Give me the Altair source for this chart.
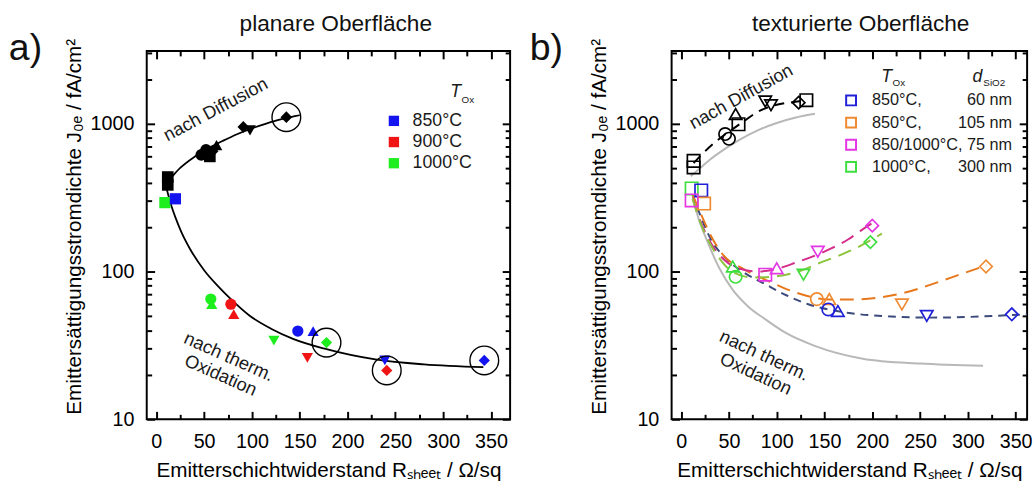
import altair as alt
import pandas as pd

FONT = "Liberation Sans"
NB = "\u00a0"

# ---------------- scales ----------------
XA_DOMAIN = [-10, 370]
XB_DOMAIN = [-10, 362]
Y_DOMAIN = [10, 3100]
Y_MAJOR = [10, 100, 1000]
Y_MINOR = [20, 30, 40, 50, 60, 70, 80, 90, 200, 300, 400, 500, 600, 700, 800, 900, 2000, 3000]

# ---------------- panel a data ----------------
A_DIFF_X = [12, 12, 47, 52, 56, 59, 63, 91, 98, 136]
A_DIFF_Y = [435, 385, 615, 665, 600, 650, 715, 950, 900, 1105]
A_DIFF_SHAPE = ["square", "square", "circle", "circle", "square", "diamond", "triangle-up",
                "diamond", "triangle-down", "diamond"]

A_OX_X = [9, 20, 57, 58, 78, 81, 123, 148, 164, 178, 158, 239, 241, 343]
A_OX_Y = [292, 310, 65, 60, 60, 51.5, 34, 39.5, 39.5, 33, 26, 25, 21.4, 25]
A_OX_SHAPE = ["square", "square", "circle", "triangle-up", "circle", "triangle-up", "triangle-down",
              "circle", "triangle-up", "diamond", "triangle-down", "triangle-down", "diamond", "diamond"]
A_OX_TEMP = ["1000°C", "850°C", "1000°C", "1000°C", "900°C", "900°C", "1000°C",
             "850°C", "850°C", "1000°C", "900°C", "850°C", "900°C", "850°C"]
A_TEMPS = ["850°C", "900°C", "1000°C"]
A_COLORS = ["#1414F0", "#F01414", "#1EEE1E"]

A_RING_X = [136, 178, 241, 343]
A_RING_Y = [1105, 33, 21.4, 25]

A_FIT_DIFF_X = [11, 14, 25, 40, 55, 70, 85, 100, 115, 130, 145, 150]
A_FIT_DIFF_Y = [400, 420, 501, 596, 684, 767, 851, 929, 1000, 1067, 1122, 1140]

A_FIT_OX_X = [10.5, 12.4, 16, 20, 26, 35, 50, 65, 78, 98, 120, 143, 177, 229, 280, 342]
A_FIT_OX_Y = [370, 331, 275, 232, 186, 143, 102, 79, 65, 50, 41, 35, 29.9, 25.4, 23.5, 22.5]

# ---------------- panel b data ----------------
B_DIFF_X = [13, 13, 46, 50, 57, 60, 88, 94, 123, 131]
B_DIFF_Y = [560, 505, 850, 790, 1160, 990, 1410, 1330, 1385, 1440]
B_DIFF_SHAPE = ["square", "square", "circle", "circle", "triangle-up", "square",
                "triangle-down", "triangle-down", "diamond", "square"]

S1 = "850°C," + NB * 10 + "60 nm"
S2 = "850°C," + NB * 8 + "105 nm"
S3 = "850/1000°C, 75 nm"
S4 = "1000°C," + NB * 6 + "300 nm"
B_SERIES = [S1, S2, S3, S4]
B_COLORS = ["#2020D8", "#F08A30", "#E436E4", "#3EDE3E"]

B_OX_X = [11, 21, 24, 11, 57, 54, 88, 100, 128, 143, 198, 200, 142, 155, 154, 164, 231, 319, 257, 346]
B_OX_Y = [364, 353, 288, 302, 92, 108, 95, 105, 95, 136, 158, 204, 65, 65, 55.3, 54, 59.8, 108, 50, 51.3]
B_OX_SHAPE = ["square", "square", "square", "square", "circle", "triangle-up", "square", "triangle-up",
              "triangle-down", "triangle-down", "diamond", "diamond", "circle", "triangle-up", "circle",
              "triangle-up", "triangle-down", "diamond", "triangle-down", "diamond"]
B_OX_SER = [S4, S1, S2, S3, S4, S4, S3, S3, S4, S3, S4, S3, S2, S2, S1, S1, S2, S2, S1, S1]

B_GRAY_UP_X = [10, 20, 30, 45, 60, 80, 100, 120, 140]
B_GRAY_UP_Y = [440, 500, 570, 670, 770, 900, 1010, 1100, 1165]
B_GRAY_LO_X = [12, 18, 27, 40, 54, 70, 88, 110, 139, 190, 250, 316]
B_GRAY_LO_Y = [320, 230, 162, 105, 75, 58, 47.5, 38.2, 31.5, 25.7, 23.8, 23.0]

B_BLUE_X = [12, 20, 30, 47, 65, 88, 110, 133, 174, 220, 260, 300, 340, 362]
B_BLUE_Y = [330, 240, 170, 122, 99, 82, 69, 60, 52.6, 49.5, 48.7, 49.2, 50.5, 51.2]
B_ORANGE_X = [12, 20, 30, 44, 65, 88, 110, 133, 155, 181, 210, 233, 265, 295, 320]
B_ORANGE_Y = [330, 250, 180, 129, 104, 88, 76, 68, 64.5, 64.6, 67, 71.6, 83, 97, 110]
B_MAG_X = [12, 20, 30, 45, 60, 81, 100, 122, 140, 157, 175, 188, 205]
B_MAG_Y = [310, 220, 160, 120, 105, 100, 104, 116, 128, 143, 165, 189, 222]
B_GRN_X = [12, 20, 30, 42, 54, 75, 95, 125, 143, 165, 185, 210]
B_GRN_Y = [310, 215, 155, 118, 99, 91, 92, 101, 113, 128, 146, 180]
B_BLK_X = [13, 25, 40, 52, 64, 80, 100, 118, 132]
B_BLK_Y = [540, 650, 790, 900, 1020, 1200, 1340, 1400, 1440]

Y_TITLE = "Emittersättigungsstromdichte J₀ₑ / fA/cm²"
X_TITLE = "Emitterschichtwiderstand Rₛₕₑₑₜ / Ω/sq"
TITLE_A = "planare Oberfläche"
TITLE_B = "texturierte Oberfläche"


def X(dom, field="x"):
    return alt.X(f"{field}:Q", scale=alt.Scale(domain=dom, nice=False, zero=False), axis=None)


def Y(field="y"):
    return alt.Y(f"{field}:Q", scale=alt.Scale(type="log", domain=Y_DOMAIN, nice=False), axis=None)


def df(xs, ys, **extra):
    d = {"x": xs, "y": ys}
    d.update(extra)
    return pd.DataFrame(d)


def axis_layers(dom):
    d = pd.DataFrame({"x": [dom[0] + 1], "y": [100]})
    base = alt.Chart(d).mark_point(opacity=0, size=1)
    xs = alt.Scale(domain=dom, nice=False, zero=False)
    ys = alt.Scale(type="log", domain=Y_DOMAIN, nice=False)
    xmaj = [v for v in range(0, 400, 50) if dom[0] <= v <= dom[1]]
    xmin = [v for v in range(25, 400, 50) if dom[0] <= v <= dom[1]]
    common = dict(domain=False, grid=False, tickColor="black", tickWidth=2)
    lab = dict(labelFont=FONT, labelFontSize=20, labelColor="black", labelOverlap=False,
               titleFont=FONT, titleFontSize=21, titleColor="black", titleFontWeight="normal")
    layers = [
        base.encode(
            x=alt.X("x:Q", scale=xs, axis=alt.Axis(orient="bottom", values=xmaj, tickSize=8, offset=-8,
                                                   labelPadding=13, labelFlush=False, format="d",
                                                   title=X_TITLE, titlePadding=8, **common, **lab)),
            y=alt.Y("y:Q", scale=ys, axis=alt.Axis(orient="left", values=Y_MAJOR, tickSize=8, offset=-8,
                                                   labelPadding=13, format="d", title=Y_TITLE,
                                                   titlePadding=6, titleY=178, **common, **lab)),
        ),
        base.encode(
            x=alt.X("x:Q", scale=xs, axis=alt.Axis(orient="top", values=xmaj, tickSize=8, offset=-8,
                                                   labels=False, title=None, **common)),
            y=alt.Y("y:Q", scale=ys, axis=alt.Axis(orient="right", values=Y_MAJOR, tickSize=8, offset=-8,
                                                   labels=False, title=None, **common)),
        ),
        base.encode(
            x=alt.X("x:Q", scale=xs, axis=alt.Axis(orient="bottom", values=xmin, tickSize=5, offset=-5,
                                                   labels=False, title=None, **common)),
            y=alt.Y("y:Q", scale=ys, axis=alt.Axis(orient="left", values=Y_MINOR, tickSize=5, offset=-5,
                                                   labels=False, title=None, **common)),
        ),
        base.encode(
            x=alt.X("x:Q", scale=xs, axis=alt.Axis(orient="top", values=xmin, tickSize=5, offset=-5,
                                                   labels=False, title=None, **common)),
            y=alt.Y("y:Q", scale=ys, axis=alt.Axis(orient="right", values=Y_MINOR, tickSize=5, offset=-5,
                                                   labels=False, title=None, **common)),
        ),
    ]
    return layers


def text_layer(dom, xs, ys, texts, **mk):
    return alt.Chart(df(xs, ys, t=texts)).mark_text(font=FONT, color="#1a1a1a", **mk).encode(
        x=X(dom), y=Y(), text="t:N")


def pixel_text(label, xpix, ypix, size, align):
    return alt.Chart(pd.DataFrame({"t": [label]})).mark_text(
        font=FONT, fontSize=size, align=align, baseline="alphabetic", color="#111111"
    ).encode(x=alt.value(xpix), y=alt.value(ypix), text="t:N")


# ---------------- panel a ----------------
A = XA_DOMAIN
a_layers = [
    alt.Chart(df(A_FIT_DIFF_X, A_FIT_DIFF_Y)).mark_line(color="black", strokeWidth=1.8, interpolate="monotone")
    .encode(x=X(A), y=Y()),
    alt.Chart(df(A_FIT_OX_X, A_FIT_OX_Y)).mark_line(color="black", strokeWidth=1.8, interpolate="monotone")
    .encode(x=X(A), y=Y()),
    alt.Chart(df(A_DIFF_X, A_DIFF_Y, shape=A_DIFF_SHAPE)).mark_point(filled=True, size=140, opacity=1, color="black")
    .encode(x=X(A), y=Y(), shape=alt.Shape("shape:N", scale=None)),
    alt.Chart(df(A_OX_X, A_OX_Y, shape=A_OX_SHAPE, temp=A_OX_TEMP)).mark_point(filled=True, size=130, opacity=1)
    .encode(
        x=X(A), y=Y(), shape=alt.Shape("shape:N", scale=None),
        color=alt.Color("temp:N", scale=alt.Scale(domain=A_TEMPS, range=A_COLORS),
                        legend=alt.Legend(title=None, orient="none", legendX=242, legendY=62,
                                          symbolType="square", symbolSize=110, labelFont=FONT,
                                          labelFontSize=18, labelColor="#1a1a1a", rowPadding=3.5,
                                          labelOffset=10, padding=0)),
    ),
    alt.Chart(df(A_RING_X, A_RING_Y)).mark_point(shape="circle", size=850, filled=False, color="black",
                                                  strokeWidth=1.4, opacity=1)
    .encode(x=X(A), y=Y()),
    text_layer(A, [62], [1250], ["nach Diffusion"], angle=332, fontSize=18.5),
    text_layer(A, [76], [26.5], ["nach therm.\nOxidation"], angle=24, fontSize=18.5, lineBreak="\n"),
    text_layer(A, [313], [1622], ["T"], fontSize=18, fontStyle="italic", align="center", baseline="middle"),
    text_layer(A, [313], [1622], ["Ox"], fontSize=10, align="left", baseline="middle", dx=6, dy=8),
    pixel_text("a)", -140, 9, 38, "left"),
    pixel_text(TITLE_A, 192, -20, 23, "center"),
] + axis_layers(A)

panel_a = alt.layer(*a_layers).resolve_axis(x="independent", y="independent").properties(
    width=369, height=374)

# ---------------- panel b ----------------
B = XB_DOMAIN


def dashed(xs, ys, color, dash):
    return alt.Chart(df(xs, ys)).mark_line(color=color, strokeWidth=2, strokeDash=dash, interpolate="monotone",
                                           clip=True).encode(x=X(B), y=Y())


b_layers = [
    alt.Chart(df(B_GRAY_UP_X, B_GRAY_UP_Y)).mark_line(color="#B8B8B8", strokeWidth=2, interpolate="monotone")
    .encode(x=X(B), y=Y()),
    alt.Chart(df(B_GRAY_LO_X, B_GRAY_LO_Y)).mark_line(color="#B8B8B8", strokeWidth=2, interpolate="monotone")
    .encode(x=X(B), y=Y()),
    dashed(B_BLUE_X, B_BLUE_Y, "#3C4A7C", [8, 6]),
    dashed(B_ORANGE_X, B_ORANGE_Y, "#E8781C", [14, 8]),
    dashed(B_MAG_X, B_MAG_Y, "#D42C8A", [14, 8]),
    dashed(B_GRN_X, B_GRN_Y, "#8CC43C", [14, 8]),
    dashed(B_BLK_X, B_BLK_Y, "black", [10, 7]),
    alt.Chart(df(B_DIFF_X, B_DIFF_Y, shape=B_DIFF_SHAPE)).mark_point(filled=False, size=160, strokeWidth=1.7,
                                                                      opacity=1, color="black")
    .encode(x=X(B), y=Y(), shape=alt.Shape("shape:N", scale=None)),
    alt.Chart(df(B_OX_X, B_OX_Y, shape=B_OX_SHAPE, ser=B_OX_SER)).mark_point(filled=False, size=160,
                                                                             strokeWidth=1.7, opacity=1)
    .encode(
        x=X(B), y=Y(), shape=alt.Shape("shape:N", scale=None),
        color=alt.Color("ser:N", scale=alt.Scale(domain=B_SERIES, range=B_COLORS),
                        legend=alt.Legend(title=None, orient="none", legendX=174, legendY=42,
                                          symbolType="square", symbolSize=100, symbolStrokeWidth=2,
                                          labelFont=FONT, labelFontSize=16.5, labelColor="#1a1a1a",
                                          rowPadding=3.5, labelOffset=13, padding=0, labelLimit=300)),
    ),
    text_layer(B, [62.6], [1525], ["nach Diffusion"], angle=331, fontSize=18.5),
    text_layer(B, [87], [27], ["nach therm.\nOxidation"], angle=25, fontSize=18.5, lineBreak="\n"),
    text_layer(B, [215], [2080], ["T"], fontSize=18, fontStyle="italic", align="center", baseline="middle"),
    text_layer(B, [215], [2080], ["Ox"], fontSize=10, align="left", baseline="middle", dx=6, dy=7),
    text_layer(B, [310], [2080], ["d"], fontSize=18, fontStyle="italic", align="center", baseline="middle"),
    text_layer(B, [310], [2080], ["SiO2"], fontSize=10, align="left", baseline="middle", dx=6, dy=7),
    pixel_text("b)", -144, 9, 38, "left"),
    pixel_text(TITLE_B, 192, -20, 23, "center"),
] + axis_layers(B)

panel_b = alt.layer(*b_layers).resolve_axis(x="independent", y="independent").properties(
    width=361, height=374)

chart = alt.hconcat(panel_a, panel_b, spacing=17).resolve_scale(color="independent").properties(
    padding={"left": 8, "top": 9, "right": 0, "bottom": 0}
).configure(font=FONT, background="white").configure_view(stroke="black", strokeWidth=2)

chart.save("out.html", embed_options={"renderer": "svg", "actions": False})
